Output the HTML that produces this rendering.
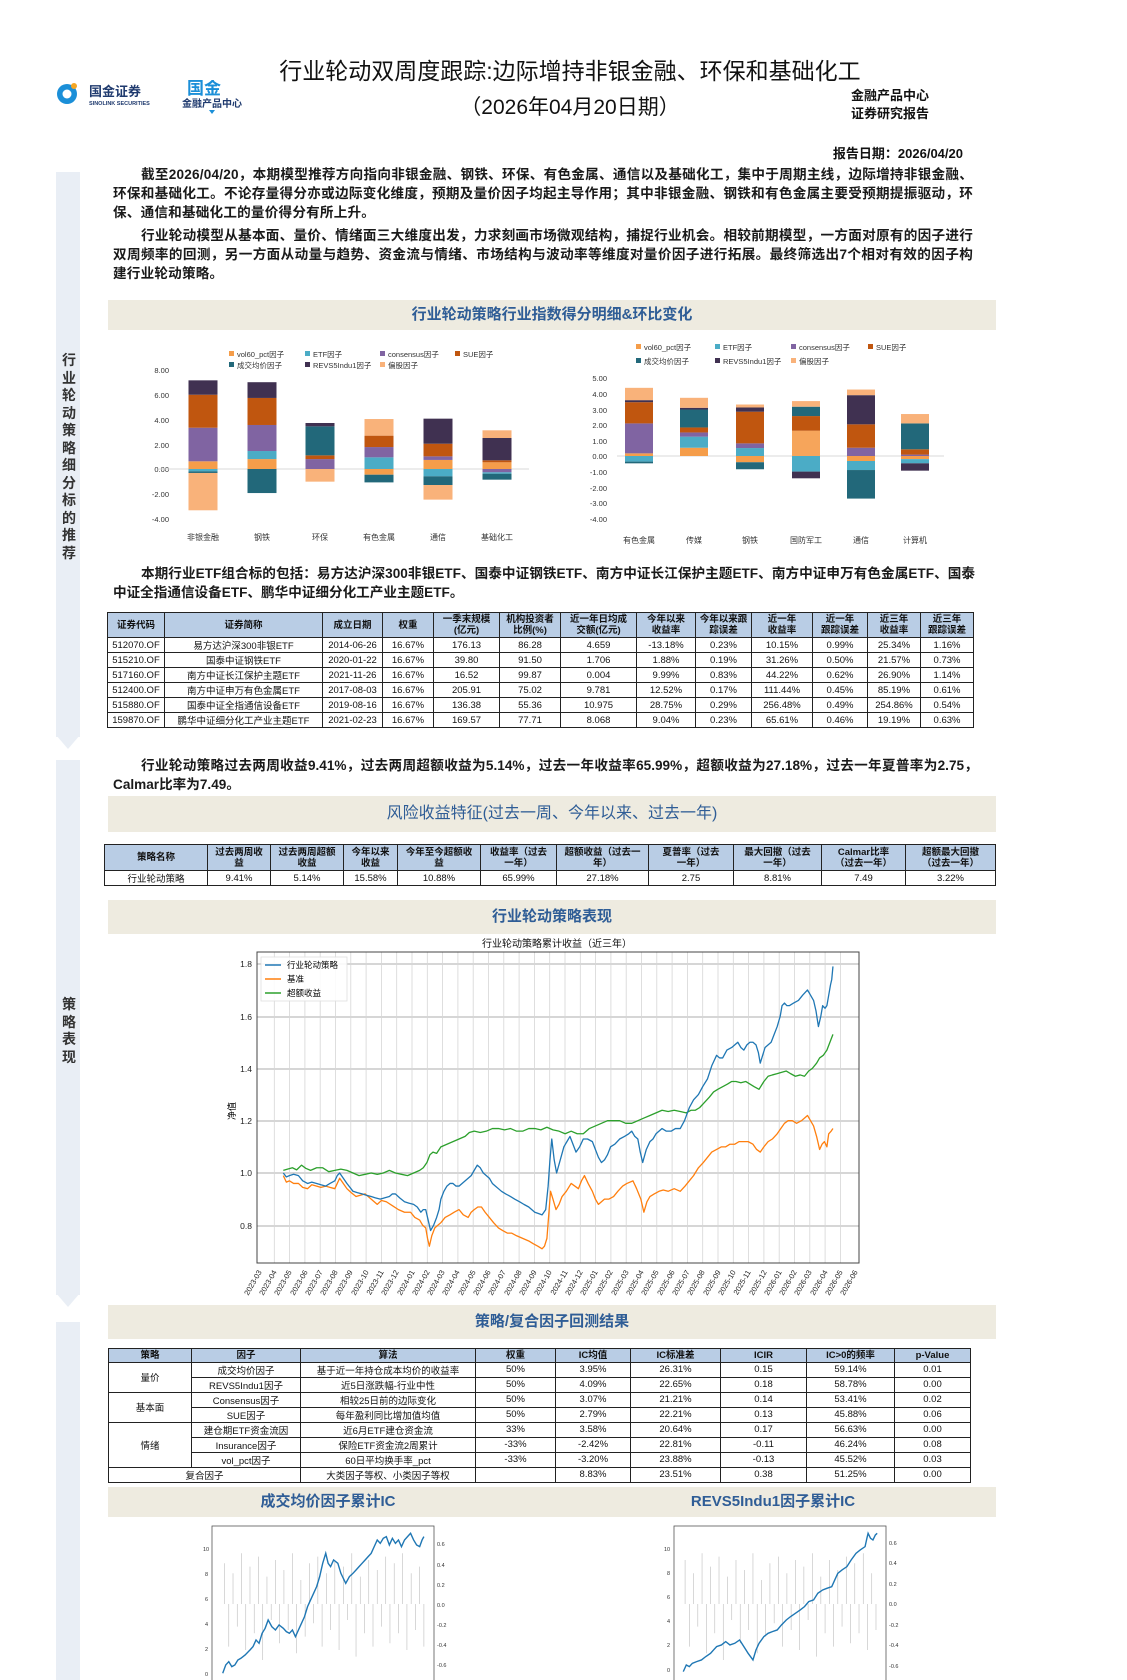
<!DOCTYPE html>
<html><head><meta charset="utf-8">
<style>
*{margin:0;padding:0;box-sizing:border-box}
body{width:1127px;height:1680px;position:relative;background:#fff;overflow:hidden;font-family:"Liberation Sans","Noto Sans CJK SC",sans-serif;color:#111}
.a{position:absolute}
.band{position:absolute;left:108px;width:888px;background:#eeebe0;color:#2f5d96;font-weight:bold;font-size:15px;text-align:center}
.p{position:absolute;left:113px;width:860px;font-size:13.6px;line-height:19px;font-weight:bold;text-indent:28px;text-align:justify;color:#1a1a1a;letter-spacing:0.2px}
table{border-collapse:collapse;position:absolute;table-layout:fixed}
td,th{border:1px solid #222;font-size:9.5px;text-align:center;padding:0;white-space:nowrap;overflow:hidden;font-weight:normal}
th{background:#b9cde5;font-weight:bold;line-height:11px}
.side{position:absolute;left:56px;width:24px;background:#e9eef5}
.vt{position:absolute;left:62px;width:14px;font-size:14px;line-height:17.5px;color:#333;font-weight:bold}
</style></head><body>

<div class="side" style="top:172px;height:565px"></div>
<svg class="a" style="left:56px;top:735px" width="24" height="16"><polygon points="0,0 24,0 12,14" fill="#e9eef5"/></svg>
<div class="side" style="top:760px;height:535px"></div>
<svg class="a" style="left:56px;top:1293px" width="24" height="16"><polygon points="0,0 24,0 12,14" fill="#e9eef5"/></svg>
<div class="side" style="top:1322px;height:358px"></div>
<div class="vt" style="top:352px">行<br>业<br>轮<br>动<br>策<br>略<br>细<br>分<br>标<br>的<br>推<br>荐</div>
<div class="vt" style="top:996px">策<br>略<br>表<br>现</div>

<svg class="a" style="left:55px;top:80px" width="200" height="36">
<circle cx="12" cy="14" r="10" fill="#1b8fd8"/><circle cx="12" cy="14" r="4.5" fill="#fff"/><circle cx="19" cy="6" r="3" fill="#f5a623"/>
<text x="34" y="16" font-size="13" font-weight="bold" fill="#1f3a6e" font-family="Noto Sans CJK SC,sans-serif">国金证券</text>
<text x="34" y="25" font-size="5.5" font-weight="bold" fill="#1f3a6e" font-family="Liberation Sans,sans-serif">SINOLINK SECURITIES</text>
<text x="132" y="14" font-size="17" font-weight="bold" fill="#1b8fd8" font-family="Noto Sans CJK SC,sans-serif">国金</text>
<text x="127" y="27" font-size="10" font-weight="bold" fill="#1f3a6e" font-family="Noto Sans CJK SC,sans-serif">金融产品中心</text>
<polygon points="154,30 160,30 157,34" fill="#1b8fd8"/>
</svg>
<div class="a" style="left:240px;top:56px;width:660px;text-align:center;font-size:23px;line-height:30px">行业轮动双周度跟踪:边际增持非银金融、环保和基础化工</div>
<div class="a" style="left:240px;top:94px;width:660px;text-align:center;font-size:21px;line-height:28px">（2026年04月20日期）</div>
<div class="a" style="left:851px;top:87px;font-size:13px;line-height:18px;font-weight:bold">金融产品中心<br>证券研究报告</div>
<div class="a" style="left:820px;top:143px;width:143px;text-align:right;font-size:13px;font-weight:bold">报告日期：2026/04/20</div>

<div class="p" style="top:165px">截至2026/04/20，本期模型推荐方向指向非银金融、钢铁、环保、有色金属、通信以及基础化工，集中于周期主线，边际增持非银金融、环保和基础化工。不论存量得分亦或边际变化维度，预期及量价因子均起主导作用；其中非银金融、钢铁和有色金属主要受预期提振驱动，环保、通信和基础化工的量价得分有所上升。</div>
<div class="p" style="top:226px">行业轮动模型从基本面、量价、情绪面三大维度出发，力求刻画市场微观结构，捕捉行业机会。相较前期模型，一方面对原有的因子进行双周频率的回测，另一方面从动量与趋势、资金流与情绪、市场结构与波动率等维度对量价因子进行拓展。最终筛选出7个相对有效的因子构建行业轮动策略。</div>

<div class="band" style="top:300px;height:30px;line-height:30px">行业轮动策略行业指数得分明细&amp;环比变化</div>

<svg class="a" style="left:0;top:0" width="1127" height="600" font-family="Liberation Sans,Noto Sans CJK SC,sans-serif">
<g font-size="7.5" fill="#333">
<rect x="229" y="351" width="5" height="5" fill="#f59d4a"/><text x="237" y="357">vol60_pct因子</text>
<rect x="305" y="351" width="5" height="5" fill="#4bacc6"/><text x="313" y="357">ETF因子</text>
<rect x="380" y="351" width="5" height="5" fill="#8064a2"/><text x="388" y="357">consensus因子</text>
<rect x="455" y="351" width="5" height="5" fill="#c0560f"/><text x="463" y="357">SUE因子</text>
<rect x="229" y="362" width="5" height="5" fill="#22687a"/><text x="237" y="368">成交均价因子</text>
<rect x="305" y="362" width="5" height="5" fill="#403151"/><text x="313" y="368">REVS5Indu1因子</text>
<rect x="380" y="362" width="5" height="5" fill="#f9b27a"/><text x="388" y="368">偏股因子</text>
<rect x="636" y="344" width="5" height="5" fill="#f59d4a"/><text x="644" y="350">vol60_pct因子</text>
<rect x="715" y="344" width="5" height="5" fill="#4bacc6"/><text x="723" y="350">ETF因子</text>
<rect x="791" y="344" width="5" height="5" fill="#8064a2"/><text x="799" y="350">consensus因子</text>
<rect x="868" y="344" width="5" height="5" fill="#c0560f"/><text x="876" y="350">SUE因子</text>
<rect x="636" y="358" width="5" height="5" fill="#22687a"/><text x="644" y="364">成交均价因子</text>
<rect x="715" y="358" width="5" height="5" fill="#403151"/><text x="723" y="364">REVS5Indu1因子</text>
<rect x="791" y="358" width="5" height="5" fill="#f9b27a"/><text x="799" y="364">偏股因子</text>
</g>
<g font-size="7.5" fill="#333" text-anchor="end">
<text x="169" y="373">8.00</text><text x="169" y="398">6.00</text><text x="169" y="423">4.00</text><text x="169" y="448">2.00</text><text x="169" y="472">0.00</text><text x="169" y="497">-2.00</text><text x="169" y="522">-4.00</text>
<text x="607" y="381">5.00</text><text x="607" y="397">4.00</text><text x="607" y="413">3.00</text><text x="607" y="428">2.00</text><text x="607" y="444">1.00</text><text x="607" y="459">0.00</text><text x="607" y="475">-1.00</text><text x="607" y="491">-2.00</text><text x="607" y="506">-3.00</text><text x="607" y="522">-4.00</text>
</g>
<line x1="159" y1="469" x2="529" y2="469" stroke="#d9d9d9"/>
<line x1="617" y1="456" x2="944" y2="456" stroke="#d9d9d9"/>
<g transform="matrix(1,0,0,-12.4,0,469)">
<g transform="translate(188.5,0)">
<rect width="29" y="0" height="0.62" fill="#f59d4a"/><rect width="29" y="0.62" height="2.71" fill="#8064a2"/><rect width="29" y="3.33" height="2.66" fill="#c0560f"/><rect width="29" y="5.99" height="1.16" fill="#403151"/>
<rect width="29" y="-0.19" height="0.19" fill="#4bacc6"/><rect width="29" y="-0.32" height="0.13" fill="#22687a"/><rect width="29" y="-3.33" height="3.01" fill="#f9b27a"/></g>
<g transform="translate(247.5,0)">
<rect width="29" y="0" height="0.8" fill="#f59d4a"/><rect width="29" y="0.8" height="0.65" fill="#4bacc6"/><rect width="29" y="1.45" height="2.1" fill="#8064a2"/><rect width="29" y="3.55" height="2.18" fill="#c0560f"/><rect width="29" y="5.73" height="1.27" fill="#403151"/>
<rect width="29" y="-1.94" height="1.94" fill="#22687a"/></g>
<g transform="translate(305.5,0)">
<rect width="29" y="0" height="0.8" fill="#8064a2"/><rect width="29" y="0.8" height="0.3" fill="#c0560f"/><rect width="29" y="1.1" height="2.34" fill="#22687a"/><rect width="29" y="3.44" height="0.27" fill="#403151"/>
<rect width="29" y="-1.02" height="1.02" fill="#f9b27a"/></g>
<g transform="translate(364.5,0)">
<rect width="29" y="0" height="0.94" fill="#4bacc6"/><rect width="29" y="0.94" height="0.83" fill="#8064a2"/><rect width="29" y="1.77" height="0.92" fill="#c0560f"/><rect width="29" y="2.69" height="1.34" fill="#f9b27a"/>
<rect width="29" y="-0.46" height="0.46" fill="#f59d4a"/><rect width="29" y="-1.08" height="0.62" fill="#22687a"/></g>
<g transform="translate(423.5,0)">
<rect width="29" y="0" height="0.73" fill="#f59d4a"/><rect width="29" y="0.73" height="0.29" fill="#8064a2"/><rect width="29" y="1.02" height="1.02" fill="#c0560f"/><rect width="29" y="2.04" height="2.02" fill="#403151"/>
<rect width="29" y="-0.59" height="0.59" fill="#4bacc6"/><rect width="29" y="-1.29" height="0.7" fill="#22687a"/><rect width="29" y="-2.47" height="1.18" fill="#f9b27a"/></g>
<g transform="translate(482.5,0)">
<rect width="29" y="0" height="0.54" fill="#f59d4a"/><rect width="29" y="0.54" height="0.16" fill="#c0560f"/><rect width="29" y="0.7" height="1.8" fill="#403151"/><rect width="29" y="2.5" height="0.62" fill="#f9b27a"/>
<rect width="29" y="-0.27" height="0.27" fill="#8064a2"/><rect width="29" y="-0.38" height="0.11" fill="#4bacc6"/><rect width="29" y="-0.86" height="0.48" fill="#22687a"/></g>
</g>
<g transform="matrix(1,0,0,-15.6,0,456)">
<g transform="translate(625,0)">
<rect width="28" y="0" height="0.17" fill="#f59d4a"/><rect width="28" y="0.17" height="1.92" fill="#8064a2"/><rect width="28" y="2.09" height="1.36" fill="#c0560f"/><rect width="28" y="3.45" height="0.13" fill="#403151"/><rect width="28" y="3.58" height="0.79" fill="#f9b27a"/>
<rect width="28" y="-0.36" height="0.36" fill="#4bacc6"/><rect width="28" y="-0.47" height="0.11" fill="#22687a"/></g>
<g transform="translate(680,0)">
<rect width="28" y="0" height="0.53" fill="#f59d4a"/><rect width="28" y="0.53" height="0.71" fill="#4bacc6"/><rect width="28" y="1.24" height="0.27" fill="#8064a2"/><rect width="28" y="1.51" height="0.32" fill="#c0560f"/><rect width="28" y="1.83" height="1.15" fill="#22687a"/><rect width="28" y="2.98" height="0.11" fill="#403151"/><rect width="28" y="3.09" height="0.64" fill="#f9b27a"/></g>
<g transform="translate(736,0)">
<rect width="28" y="0" height="0.51" fill="#4bacc6"/><rect width="28" y="0.51" height="0.3" fill="#8064a2"/><rect width="28" y="0.81" height="2.03" fill="#c0560f"/><rect width="28" y="2.84" height="0.27" fill="#403151"/><rect width="28" y="3.11" height="0.19" fill="#f9b27a"/>
<rect width="28" y="-0.4" height="0.4" fill="#f59d4a"/><rect width="28" y="-0.85" height="0.45" fill="#22687a"/></g>
<g transform="translate(792,0)">
<rect width="28" y="0" height="1.62" fill="#f6a55b"/><rect width="28" y="1.62" height="0.94" fill="#c0560f"/><rect width="28" y="2.56" height="0.6" fill="#22687a"/><rect width="28" y="3.16" height="0.36" fill="#f9b27a"/>
<rect width="28" y="-1.0" height="1.0" fill="#4bacc6"/><rect width="28" y="-1.43" height="0.43" fill="#403151"/></g>
<g transform="translate(847,0)">
<rect width="28" y="0" height="0.53" fill="#8064a2"/><rect width="28" y="0.53" height="1.5" fill="#c0560f"/><rect width="28" y="2.03" height="1.87" fill="#403151"/><rect width="28" y="3.9" height="0.36" fill="#f9b27a"/>
<rect width="28" y="-0.32" height="0.32" fill="#f59d4a"/><rect width="28" y="-0.9" height="0.58" fill="#4bacc6"/><rect width="28" y="-2.73" height="1.83" fill="#22687a"/></g>
<g transform="translate(901,0)">
<rect width="28" y="0" height="0.09" fill="#8064a2"/><rect width="28" y="0.09" height="0.34" fill="#c0560f"/><rect width="28" y="0.43" height="1.66" fill="#22687a"/><rect width="28" y="2.09" height="0.6" fill="#f9b27a"/>
<rect width="28" y="-0.2" height="0.2" fill="#f59d4a"/><rect width="28" y="-0.47" height="0.27" fill="#4bacc6"/><rect width="28" y="-0.94" height="0.47" fill="#403151"/></g>
</g>
<g font-size="8" fill="#333" text-anchor="middle">
<text x="203" y="540">非银金融</text><text x="262" y="540">钢铁</text><text x="320" y="540">环保</text><text x="379" y="540">有色金属</text><text x="438" y="540">通信</text><text x="497" y="540">基础化工</text>
<text x="639" y="543">有色金属</text><text x="694" y="543">传媒</text><text x="750" y="543">钢铁</text><text x="806" y="543">国防军工</text><text x="861" y="543">通信</text><text x="915" y="543">计算机</text>
</g>
</svg>

<div class="p" style="top:564px;width:862px;letter-spacing:0">本期行业ETF组合标的包括：易方达沪深300非银ETF、国泰中证钢铁ETF、南方中证长江保护主题ETF、南方中证申万有色金属ETF、国泰中证全指通信设备ETF、鹏华中证细分化工产业主题ETF。</div>

<table style="left:107px;top:612px;width:866px">
<colgroup><col style="width:57px"><col style="width:158px"><col style="width:60px"><col style="width:51px"><col style="width:66px"><col style="width:61px"><col style="width:76px"><col style="width:59px"><col style="width:56px"><col style="width:61px"><col style="width:55px"><col style="width:53px"><col style="width:53px"></colgroup>
<tr style="height:25px"><th>证券代码</th><th>证券简称</th><th>成立日期</th><th>权重</th><th>一季末规模<br>(亿元)</th><th>机构投资者<br>比例(%)</th><th>近一年日均成<br>交额(亿元)</th><th>今年以来<br>收益率</th><th>今年以来跟<br>踪误差</th><th>近一年<br>收益率</th><th>近一年<br>跟踪误差</th><th>近三年<br>收益率</th><th>近三年<br>跟踪误差</th></tr>
<tr style="height:14px"><td>512070.OF</td><td>易方达沪深300非银ETF</td><td>2014-06-26</td><td>16.67%</td><td>176.13</td><td>86.28</td><td>4.659</td><td>-13.18%</td><td>0.23%</td><td>10.15%</td><td>0.99%</td><td>25.34%</td><td>1.16%</td></tr>
<tr style="height:14px"><td>515210.OF</td><td>国泰中证钢铁ETF</td><td>2020-01-22</td><td>16.67%</td><td>39.80</td><td>91.50</td><td>1.706</td><td>1.88%</td><td>0.19%</td><td>31.26%</td><td>0.50%</td><td>21.57%</td><td>0.73%</td></tr>
<tr style="height:14px"><td>517160.OF</td><td>南方中证长江保护主题ETF</td><td>2021-11-26</td><td>16.67%</td><td>16.52</td><td>99.87</td><td>0.004</td><td>9.99%</td><td>0.83%</td><td>44.22%</td><td>0.62%</td><td>26.90%</td><td>1.14%</td></tr>
<tr style="height:14px"><td>512400.OF</td><td>南方中证申万有色金属ETF</td><td>2017-08-03</td><td>16.67%</td><td>205.91</td><td>75.02</td><td>9.781</td><td>12.52%</td><td>0.17%</td><td>111.44%</td><td>0.45%</td><td>85.19%</td><td>0.61%</td></tr>
<tr style="height:14px"><td>515880.OF</td><td>国泰中证全指通信设备ETF</td><td>2019-08-16</td><td>16.67%</td><td>136.38</td><td>55.36</td><td>10.975</td><td>28.75%</td><td>0.29%</td><td>256.48%</td><td>0.49%</td><td>254.86%</td><td>0.54%</td></tr>
<tr style="height:14px"><td>159870.OF</td><td>鹏华中证细分化工产业主题ETF</td><td>2021-02-23</td><td>16.67%</td><td>169.57</td><td>77.71</td><td>8.068</td><td>9.04%</td><td>0.23%</td><td>65.61%</td><td>0.46%</td><td>19.19%</td><td>0.63%</td></tr>
</table>

<div class="p" style="top:756px;width:865px;letter-spacing:0">行业轮动策略过去两周收益9.41%，过去两周超额收益为5.14%，过去一年收益率65.99%，超额收益为27.18%，过去一年夏普率为2.75，Calmar比率为7.49。</div>

<div class="band" style="top:796px;height:36px;line-height:36px;font-weight:normal;font-size:16px">风险收益特征(过去一周、今年以来、过去一年)</div>

<table style="left:104px;top:844px;width:891px">
<colgroup><col style="width:103px"><col style="width:63px"><col style="width:73px"><col style="width:54px"><col style="width:83px"><col style="width:76px"><col style="width:92px"><col style="width:85px"><col style="width:88px"><col style="width:84px"><col style="width:90px"></colgroup>
<tr style="height:26px"><th>策略名称</th><th>过去两周收<br>益</th><th>过去两周超额<br>收益</th><th>今年以来<br>收益</th><th>今年至今超额收<br>益</th><th>收益率（过去<br>一年）</th><th>超额收益（过去一<br>年）</th><th>夏普率（过去<br>一年）</th><th>最大回撤（过去<br>一年）</th><th>Calmar比率<br>（过去一年）</th><th>超额最大回撤<br>（过去一年）</th></tr>
<tr style="height:14px"><td>行业轮动策略</td><td>9.41%</td><td>5.14%</td><td>15.58%</td><td>10.88%</td><td>65.99%</td><td>27.18%</td><td>2.75</td><td>8.81%</td><td>7.49</td><td>3.22%</td></tr>
</table>

<div class="band" style="top:900px;height:34px;line-height:34px">行业轮动策略表现</div>

<svg class="a" style="left:0;top:930px" width="1127" height="380" font-family="Liberation Sans,Noto Sans CJK SC,sans-serif">
<g transform="translate(0,-930)">
<text x="557" y="947" font-size="10" text-anchor="middle" fill="#111">行业轮动策略累计收益（近三年）</text>
<g stroke="#c8c8c8" stroke-width="1.4">
<line x1="257" x2="859" y1="964" y2="964"/><line x1="257" x2="859" y1="1017" y2="1017"/><line x1="257" x2="859" y1="1069" y2="1069"/><line x1="257" x2="859" y1="1121" y2="1121"/><line x1="257" x2="859" y1="1173" y2="1173"/><line x1="257" x2="859" y1="1226" y2="1226"/>
</g>
<path stroke="#d6d6d6" stroke-width="0.8" fill="none" d="M274.3 952V1263M289.6 952V1263M304.9 952V1263M320.2 952V1263M335.5 952V1263M350.8 952V1263M366.1 952V1263M381.4 952V1263M396.7 952V1263M412 952V1263M427.3 952V1263M442.6 952V1263M457.9 952V1263M473.2 952V1263M488.5 952V1263M503.8 952V1263M519.1 952V1263M534.4 952V1263M549.7 952V1263M565 952V1263M580.3 952V1263M595.6 952V1263M610.9 952V1263M626.2 952V1263M641.5 952V1263M656.8 952V1263M672.1 952V1263M687.4 952V1263M702.7 952V1263M718 952V1263M733.3 952V1263M748.6 952V1263M763.9 952V1263M779.2 952V1263M794.5 952V1263M809.8 952V1263M825.1 952V1263M840.4 952V1263"/>
<g transform="matrix(0.606,0,0,-261.5,50,1434.5)" fill="none" stroke-width="1.3" stroke-linejoin="round">
<polyline vector-effect="non-scaling-stroke" stroke="#2ca02c" points="385,1.01 392,1.015 400,1.02 407,1.012 415,1.03 422,1.018 430,1.01 440,1.02 450,1.02 460,1.005 470,1.01 480,1.015 490,1.01 500,1.0 510,0.99 520,0.995 530,1.0 540,0.995 550,1.0 560,1.01 570,1.0 580,0.995 590,0.99 600,1.0 610,1.01 616,1.02 622,1.04 627,1.07 632,1.08 638,1.075 645,1.1 655,1.11 665,1.12 675,1.13 685,1.14 692,1.155 700,1.16 710,1.155 720,1.16 730,1.17 740,1.17 750,1.165 760,1.17 770,1.16 780,1.16 790,1.17 800,1.17 810,1.165 820,1.175 830,1.165 840,1.16 850,1.15 860,1.16 870,1.15 880,1.15 890,1.17 900,1.18 910,1.19 920,1.2 930,1.2 940,1.2 950,1.19 960,1.19 970,1.2 980,1.21 990,1.22 1000,1.23 1010,1.24 1020,1.235 1030,1.24 1040,1.235 1050,1.23 1058,1.24 1065,1.24 1072,1.25 1080,1.27 1088,1.29 1095,1.31 1102,1.32 1110,1.33 1118,1.34 1125,1.35 1132,1.35 1140,1.345 1148,1.35 1155,1.34 1162,1.33 1170,1.32 1178,1.35 1185,1.37 1192,1.375 1200,1.38 1207,1.385 1215,1.39 1222,1.38 1230,1.37 1238,1.375 1245,1.37 1252,1.39 1258,1.4 1265,1.42 1270,1.44 1276,1.45 1282,1.47 1287,1.5 1292,1.53"/>
<polyline vector-effect="non-scaling-stroke" stroke="#ff7f0e" points="385,0.99 390,0.965 395,0.97 402,0.96 410,0.96 417,0.945 425,0.94 432,0.955 440,0.95 447,0.945 455,0.95 462,0.945 470,0.94 474,0.96 478,0.98 484,0.96 490,0.94 497,0.925 505,0.91 512,0.915 520,0.92 530,0.9 540,0.88 547,0.895 555,0.89 565,0.875 575,0.86 585,0.85 595,0.85 602,0.83 610,0.82 615,0.8 620,0.79 623,0.75 626,0.72 630,0.76 635,0.79 640,0.8 645,0.81 652,0.83 660,0.84 667,0.85 675,0.86 682,0.84 690,0.83 695,0.85 700,0.86 706,0.87 712,0.87 718,0.85 725,0.83 732,0.81 740,0.79 747,0.78 755,0.77 762,0.77 770,0.76 780,0.75 790,0.74 797,0.73 805,0.72 812,0.71 816,0.72 820,0.75 826,0.93 830,0.9 835,0.86 840,0.88 845,0.91 852,0.93 860,0.96 866,0.95 872,0.94 877,0.97 882,0.99 888,0.96 895,0.93 900,0.9 905,0.88 910,0.89 915,0.9 922,0.9 930,0.91 937,0.93 945,0.95 952,0.96 962,0.97 968,0.94 975,0.9 978,0.87 980,0.85 985,0.89 990,0.91 997,0.92 1005,0.93 1012,0.935 1020,0.93 1030,0.94 1040,0.93 1048,0.95 1055,0.97 1062,0.99 1070,1.02 1078,1.04 1085,1.06 1092,1.08 1100,1.09 1108,1.1 1115,1.1 1122,1.11 1130,1.11 1137,1.12 1145,1.12 1152,1.12 1160,1.11 1166,1.09 1172,1.08 1178,1.1 1185,1.12 1192,1.13 1200,1.15 1206,1.17 1212,1.19 1218,1.2 1225,1.2 1232,1.19 1240,1.2 1245,1.21 1250,1.22 1255,1.2 1260,1.18 1265,1.14 1270,1.09 1274,1.11 1278,1.12 1282,1.1 1285,1.15 1289,1.16 1292,1.17"/>
<polyline vector-effect="non-scaling-stroke" stroke="#1f77b4" points="385,1.0 390,0.985 395,0.99 402,0.995 410,0.99 417,0.97 425,0.96 432,0.965 440,0.96 447,0.955 455,0.95 462,0.96 470,0.97 474,0.99 478,1.0 484,0.98 490,0.96 495,0.945 500,0.93 507,0.925 515,0.92 522,0.915 530,0.91 537,0.905 545,0.9 552,0.905 560,0.91 565,0.92 570,0.92 577,0.905 585,0.89 592,0.885 600,0.88 606,0.87 612,0.85 616,0.86 620,0.86 624,0.82 628,0.78 633,0.8 638,0.83 642,0.86 645,0.9 650,0.93 655,0.95 660,0.96 665,0.96 670,0.95 675,0.95 680,0.96 685,0.97 690,0.98 695,0.99 700,1.01 705,1.03 710,1.02 715,1.0 720,0.99 725,0.98 730,0.96 735,0.95 740,0.94 745,0.93 752,0.92 760,0.91 767,0.9 775,0.89 782,0.88 790,0.87 795,0.86 800,0.85 806,0.845 812,0.84 815,0.85 818,0.86 822,0.95 825,1.05 828,1.13 832,1.05 836,1.0 842,1.05 848,1.1 853,1.12 858,1.14 863,1.11 868,1.08 874,1.1 880,1.13 887,1.13 895,1.12 900,1.09 905,1.06 910,1.04 915,1.05 920,1.07 925,1.1 932,1.11 940,1.13 948,1.14 955,1.15 960,1.16 965,1.14 970,1.13 974,1.08 978,1.04 984,1.09 990,1.12 995,1.13 1000,1.15 1005,1.16 1010,1.17 1017,1.16 1025,1.16 1032,1.17 1040,1.17 1047,1.2 1055,1.25 1062,1.28 1070,1.3 1077,1.33 1085,1.36 1092,1.41 1100,1.45 1105,1.44 1110,1.44 1117,1.47 1125,1.48 1130,1.49 1135,1.5 1140,1.48 1145,1.47 1150,1.49 1155,1.5 1160,1.5 1165,1.49 1169,1.46 1172,1.42 1176,1.45 1180,1.48 1185,1.49 1190,1.5 1195,1.53 1200,1.56 1205,1.6 1208,1.64 1212,1.65 1216,1.64 1220,1.64 1227,1.65 1235,1.66 1242,1.68 1250,1.7 1255,1.68 1260,1.66 1264,1.62 1268,1.56 1272,1.6 1275,1.64 1279,1.63 1282,1.64 1285,1.68 1288,1.72 1290,1.74 1292,1.79"/>
</g>
<rect x="257" y="952" width="602" height="311" fill="none" stroke="#444" stroke-width="1"/>
<rect x="261" y="957" width="86" height="44" fill="#fff" stroke="#ddd" stroke-width="0.8" opacity="0.9"/>
<line x1="265" x2="281" y1="965" y2="965" stroke="#1f77b4" stroke-width="1.5"/><text x="287" y="968" font-size="8.5">行业轮动策略</text>
<line x1="265" x2="281" y1="979" y2="979" stroke="#ff7f0e" stroke-width="1.5"/><text x="287" y="982" font-size="8.5">基准</text>
<line x1="265" x2="281" y1="993" y2="993" stroke="#2ca02c" stroke-width="1.5"/><text x="287" y="996" font-size="8.5">超额收益</text>
<g font-size="8.5" text-anchor="end" fill="#222">
<text x="252" y="967">1.8</text><text x="252" y="1020">1.6</text><text x="252" y="1072">1.4</text><text x="252" y="1124">1.2</text><text x="252" y="1176">1.0</text><text x="252" y="1229">0.8</text>
</g>
<text x="0" y="0" font-size="9" transform="translate(235,1120) rotate(-90)">净值</text>
<g font-size="7.5" text-anchor="end" fill="#222">
<text transform="translate(262,1272) rotate(-60)">2023-03</text><text transform="translate(277,1272) rotate(-60)">2023-04</text><text transform="translate(292,1272) rotate(-60)">2023-05</text><text transform="translate(308,1272) rotate(-60)">2023-06</text><text transform="translate(323,1272) rotate(-60)">2023-07</text><text transform="translate(338,1272) rotate(-60)">2023-08</text><text transform="translate(353,1272) rotate(-60)">2023-09</text><text transform="translate(369,1272) rotate(-60)">2023-10</text><text transform="translate(384,1272) rotate(-60)">2023-11</text><text transform="translate(399,1272) rotate(-60)">2023-12</text><text transform="translate(415,1272) rotate(-60)">2024-01</text><text transform="translate(430,1272) rotate(-60)">2024-02</text><text transform="translate(445,1272) rotate(-60)">2024-03</text><text transform="translate(460,1272) rotate(-60)">2024-04</text><text transform="translate(476,1272) rotate(-60)">2024-05</text><text transform="translate(491,1272) rotate(-60)">2024-06</text><text transform="translate(506,1272) rotate(-60)">2024-07</text><text transform="translate(522,1272) rotate(-60)">2024-08</text><text transform="translate(537,1272) rotate(-60)">2024-09</text><text transform="translate(552,1272) rotate(-60)">2024-10</text><text transform="translate(568,1272) rotate(-60)">2024-11</text><text transform="translate(583,1272) rotate(-60)">2024-12</text><text transform="translate(598,1272) rotate(-60)">2025-01</text><text transform="translate(613,1272) rotate(-60)">2025-02</text><text transform="translate(629,1272) rotate(-60)">2025-03</text><text transform="translate(644,1272) rotate(-60)">2025-04</text><text transform="translate(659,1272) rotate(-60)">2025-05</text><text transform="translate(675,1272) rotate(-60)">2025-06</text><text transform="translate(690,1272) rotate(-60)">2025-07</text><text transform="translate(705,1272) rotate(-60)">2025-08</text><text transform="translate(721,1272) rotate(-60)">2025-09</text><text transform="translate(736,1272) rotate(-60)">2025-10</text><text transform="translate(751,1272) rotate(-60)">2025-11</text><text transform="translate(767,1272) rotate(-60)">2025-12</text><text transform="translate(782,1272) rotate(-60)">2026-01</text><text transform="translate(797,1272) rotate(-60)">2026-02</text><text transform="translate(812,1272) rotate(-60)">2026-03</text><text transform="translate(828,1272) rotate(-60)">2026-04</text><text transform="translate(843,1272) rotate(-60)">2026-05</text><text transform="translate(858,1272) rotate(-60)">2026-06</text>
</g>
</g>
</svg>

<div class="band" style="top:1305px;height:34px;line-height:34px">策略/复合因子回测结果</div>

<table style="left:108px;top:1348px;width:862px">
<colgroup><col style="width:83px"><col style="width:109px"><col style="width:175px"><col style="width:80px"><col style="width:75px"><col style="width:90px"><col style="width:86px"><col style="width:88px"><col style="width:76px"></colgroup>
<tr style="height:13.5px"><th>策略</th><th>因子</th><th>算法</th><th>权重</th><th>IC均值</th><th>IC标准差</th><th>ICIR</th><th>IC&gt;0的频率</th><th>p-Value</th></tr>
<tr style="height:13.5px"><td rowspan="2">量价</td><td>成交均价因子</td><td>基于近一年持仓成本均价的收益率</td><td>50%</td><td>3.95%</td><td>26.31%</td><td>0.15</td><td>59.14%</td><td>0.01</td></tr>
<tr style="height:13.5px"><td>REVS5Indu1因子</td><td>近5日涨跌幅-行业中性</td><td>50%</td><td>4.09%</td><td>22.65%</td><td>0.18</td><td>58.78%</td><td>0.00</td></tr>
<tr style="height:13.5px"><td rowspan="2">基本面</td><td>Consensus因子</td><td>相较25日前的边际变化</td><td>50%</td><td>3.07%</td><td>21.21%</td><td>0.14</td><td>53.41%</td><td>0.02</td></tr>
<tr style="height:13.5px"><td>SUE因子</td><td>每年盈利同比增加值均值</td><td>50%</td><td>2.79%</td><td>22.21%</td><td>0.13</td><td>45.88%</td><td>0.06</td></tr>
<tr style="height:13.5px"><td rowspan="3">情绪</td><td>建仓期ETF资金流因</td><td>近6月ETF建仓资金流</td><td>33%</td><td>3.58%</td><td>20.64%</td><td>0.17</td><td>56.63%</td><td>0.00</td></tr>
<tr style="height:13.5px"><td>Insurance因子</td><td>保险ETF资金流2周累计</td><td>-33%</td><td>-2.42%</td><td>22.81%</td><td>-0.11</td><td>46.24%</td><td>0.08</td></tr>
<tr style="height:13.5px"><td>vol_pct因子</td><td>60日平均换手率_pct</td><td>-33%</td><td>-3.20%</td><td>23.88%</td><td>-0.13</td><td>45.52%</td><td>0.03</td></tr>
<tr style="height:13.5px"><td colspan="2">复合因子</td><td>大类因子等权、小类因子等权</td><td></td><td>8.83%</td><td>23.51%</td><td>0.38</td><td>51.25%</td><td>0.00</td></tr>
</table>

<div class="band" style="top:1487px;height:30px;line-height:30px;text-align:left">
<span class="a" style="left:150px;width:140px;text-align:center">成交均价因子累计IC</span>
<span class="a" style="left:570px;width:190px;text-align:center">REVS5Indu1因子累计IC</span></div>

<svg class="a" style="left:0;top:1500px" width="1127" height="180" font-family="Liberation Sans,sans-serif">
<g transform="translate(0,-1500)">
<rect x="212" y="1526" width="222" height="170" fill="none" stroke="#555" stroke-width="0.8"/>
<rect x="674" y="1526" width="212" height="170" fill="none" stroke="#555" stroke-width="0.8"/>
<g transform="matrix(0.606,0,0,0.3333,50,1300)">
<path vector-effect="non-scaling-stroke" stroke="#bdbdbd" stroke-width="0.6" fill="none" d="M288 912V790M295 912V1040M302 912V820M309 912V980M316 912V760M323 912V1050M330 912V800M337 912V1000M344 912V770M351 912V1080M358 912V830M365 912V960M372 912V780M379 912V1030M386 912V810M393 912V990M400 912V760M407 912V1060M414 912V840M421 912V1010M428 912V790M435 912V970M442 912V770M449 912V1040M456 912V820M463 912V990M470 912V780M477 912V1050M484 912V800M491 912V960M498 912V760M505 912V1070M512 912V830M519 912V1000M526 912V780M533 912V1040M540 912V810M547 912V980M554 912V770M561 912V1030M568 912V790M575 912V1000M582 912V760M589 912V1050M596 912V820M603 912V990M610 912V800M617 912V1040
M1048 912V780M1055 912V1040M1062 912V820M1069 912V980M1076 912V760M1083 912V1060M1090 912V800M1097 912V1000M1104 912V770M1111 912V1080M1118 912V830M1125 912V960M1132 912V780M1139 912V1030M1146 912V810M1153 912V990M1160 912V760M1167 912V1060M1174 912V840M1181 912V1010M1188 912V790M1195 912V970M1202 912V770M1209 912V1040M1216 912V820M1223 912V990M1230 912V780M1237 912V1050M1244 912V800M1251 912V960M1258 912V760M1265 912V1070M1272 912V830M1279 912V1000M1286 912V780M1293 912V1040M1300 912V810M1307 912V980M1314 912V770M1321 912V1030M1328 912V790M1335 912V1000M1342 912V760M1349 912V1050M1356 912V820M1363 912V990"/>
<polyline vector-effect="non-scaling-stroke" stroke="#1f77b4" stroke-width="1.4" fill="none" points="285,1120 290,1095 295,1085 300,1100 305,1095 310,1080 315,1075 322,1065 330,1050 335,1040 340,1020 345,1030 350,1000 355,985 360,960 366,980 372,990 378,975 385,985 390,995 395,1000 400,990 405,1010 410,990 415,970 420,950 425,920 430,900 435,880 440,860 445,830 450,790 455,760 459,790 463,800 468,780 475,790 480,820 488,850 494,830 500,820 505,810 510,800 515,790 520,780 525,770 530,760 535,740 540,720 545,730 550,715 555,710 560,735 565,715 570,730 575,720 580,740 585,720 590,710 595,700 600,720 605,735 610,740 614,720 617,710"/>
<polyline vector-effect="non-scaling-stroke" stroke="#1f77b4" stroke-width="1.4" fill="none" points="1045,1115 1050,1095 1055,1100 1060,1090 1067,1085 1075,1080 1082,1070 1090,1060 1095,1050 1100,1040 1108,1035 1115,1025 1122,1035 1130,1030 1138,1020 1145,1040 1152,1060 1160,1080 1165,1050 1170,1030 1178,1010 1185,1000 1192,995 1200,990 1207,975 1215,960 1222,950 1230,940 1238,930 1245,920 1252,905 1260,900 1267,880 1275,870 1282,865 1290,860 1295,840 1300,820 1307,810 1315,800 1322,780 1330,760 1337,750 1345,740 1348,715 1350,700 1354,715 1358,720 1362,705 1365,700"/>
</g>
<g font-size="5.5" fill="#333">
<text x="203" y="1551">10</text><text x="205" y="1576">8</text><text x="205" y="1601">6</text><text x="205" y="1626">4</text><text x="205" y="1651">2</text><text x="205" y="1676">0</text>
<text x="437" y="1546">0.6</text><text x="437" y="1567">0.4</text><text x="437" y="1587">0.2</text><text x="437" y="1607">0.0</text><text x="437" y="1627">-0.2</text><text x="437" y="1647">-0.4</text><text x="437" y="1667">-0.6</text>
<text x="664" y="1551">10</text><text x="667" y="1575">8</text><text x="667" y="1599">6</text><text x="667" y="1623">4</text><text x="667" y="1647">2</text><text x="667" y="1672">0</text>
<text x="889" y="1545">0.6</text><text x="889" y="1565">0.4</text><text x="889" y="1586">0.2</text><text x="889" y="1606">0.0</text><text x="889" y="1627">-0.2</text><text x="889" y="1647">-0.4</text><text x="889" y="1668">-0.6</text>
</g>
</g>
</svg>
</body></html>
